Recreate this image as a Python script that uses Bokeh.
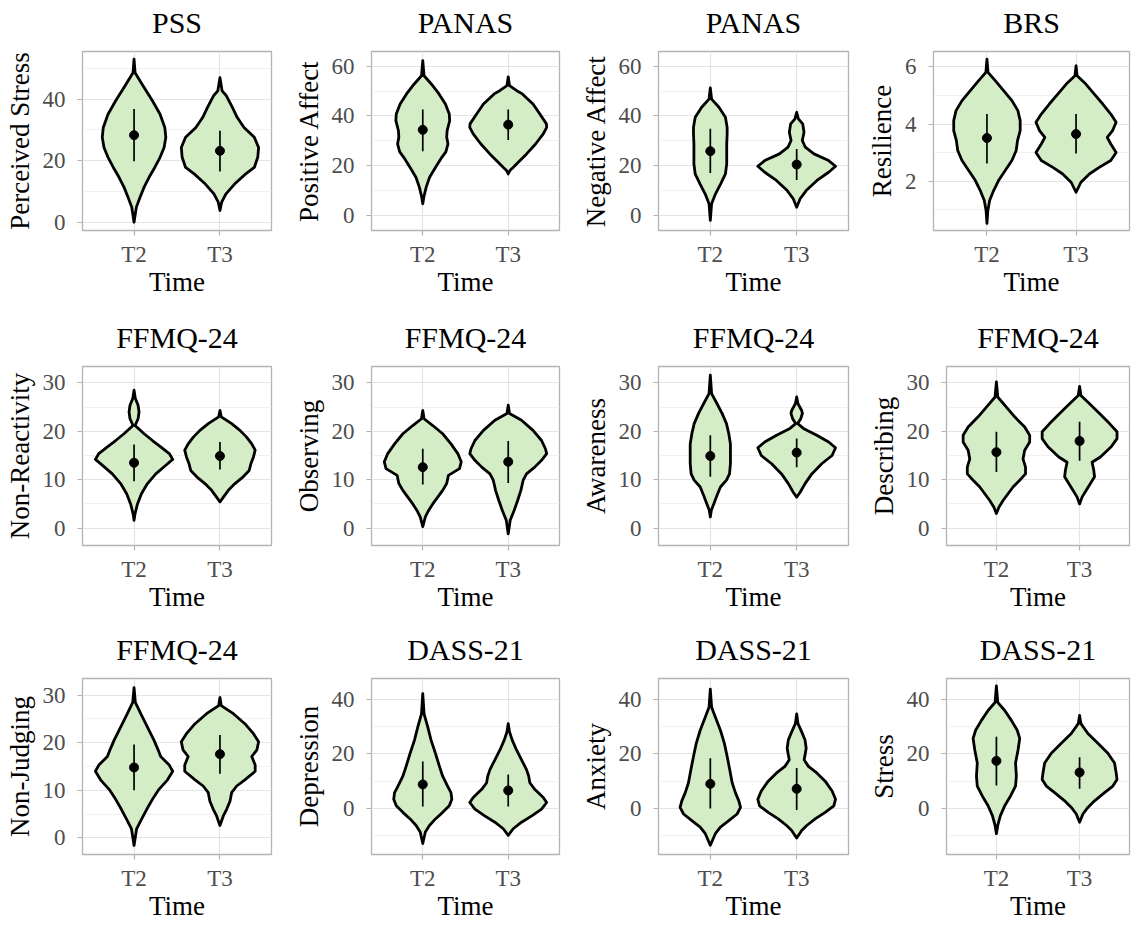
from bokeh.plotting import figure
from bokeh.layouts import column, row
from bokeh.models import FixedTicker, Range1d, LinearAxis
from bokeh.embed import file_html
from bokeh.resources import INLINE

# ---------------- data ----------------
TIMES = ["T2", "T3"]
TITLES = ["PSS", "PANAS", "PANAS", "BRS",
          "FFMQ-24", "FFMQ-24", "FFMQ-24", "FFMQ-24",
          "FFMQ-24", "DASS-21", "DASS-21", "DASS-21"]
YLABELS = ["Perceived Stress", "Positive Affect", "Negative Affect", "Resilience",
           "Non-Reactivity", "Observing", "Awareness", "Describing",
           "Non-Judging", "Depression", "Anxiety", "Stress"]

# violin outlines: y levels and half widths (x units), T2 and T3
PSS_T2_y = [0, 4.9, 8.1, 11.4, 14.6, 17.8, 21.1, 24.3, 27.6, 30.8, 35.1, 39.5, 43.8, 48.6, 53.0]
PSS_T2_w = [0, 0.027, 0.07, 0.117, 0.175, 0.241, 0.303, 0.35, 0.37, 0.358, 0.303, 0.214, 0.117, 0.012, 0]
PSS_T3_y = [3.8, 6.5, 9.2, 12.4, 15.7, 17.8, 21.1, 24.3, 27.6, 30.8, 34.1, 37.3, 41.1, 42.7, 47.0]
PSS_T3_w = [0, 0.02, 0.07, 0.17, 0.30, 0.40, 0.44, 0.45, 0.40, 0.28, 0.20, 0.145, 0.075, 0.025, 0]

PA_T2_y = [4.6, 7.2, 11.3, 15.3, 19.3, 23.4, 25.5, 28.7, 31.4, 34.1, 38.1, 40.8, 44.8, 48.9, 52.9, 56.2, 62.3]
PA_T2_w = [0, 0.012, 0.04, 0.08, 0.15, 0.225, 0.27, 0.295, 0.28, 0.285, 0.315, 0.31, 0.265, 0.19, 0.1, 0.015, 0]
PA_T3_y = [16.6, 18, 19.3, 20.7, 24.7, 28.7, 32.8, 35.4, 36.8, 40.8, 44.8, 48.9, 50.2, 52.2, 55.8]
PA_T3_w = [0, 0.02, 0.06, 0.1, 0.215, 0.32, 0.41, 0.45, 0.447, 0.37, 0.29, 0.165, 0.1, 0.015, 0]

NA_T2_y = [-2.1, 4.6, 8.6, 12.6, 16.6, 20.7, 24.7, 28.7, 32.8, 35.4, 39.5, 43.5, 46.8, 51.3]
NA_T2_w = [0, 0.015, 0.06, 0.12, 0.175, 0.19, 0.19, 0.19, 0.195, 0.195, 0.175, 0.1, 0.015, 0]
NA_T3_y = [3.2, 6.6, 9.9, 14, 17.3, 19.7, 22, 24.7, 27.4, 30.1, 33.4, 36.8, 38.8, 41.5]
NA_T3_w = [0, 0.04, 0.11, 0.235, 0.37, 0.45, 0.37, 0.2, 0.1, 0.065, 0.085, 0.07, 0.02, 0]

BRS_T2_y = [0.52, 0.97, 1.32, 1.67, 2.02, 2.37, 2.72, 3.07, 3.42, 3.77, 4.12, 4.47, 4.82, 5.17, 5.52, 5.81, 6.27]
BRS_T2_w = [0, 0.01, 0.03, 0.075, 0.13, 0.205, 0.28, 0.328, 0.343, 0.373, 0.373, 0.347, 0.28, 0.187, 0.093, 0.012, 0]
BRS_T3_y = [1.61, 1.96, 2.25, 2.48, 2.72, 3.0, 3.3, 3.53, 3.77, 4.06, 4.35, 4.7, 5.05, 5.4, 5.69, 6.04]
BRS_T3_w = [0, 0.055, 0.15, 0.26, 0.39, 0.45, 0.39, 0.35, 0.41, 0.45, 0.39, 0.3, 0.205, 0.11, 0.012, 0]

NR_T2_y = [1.6, 3, 5, 7.1, 9.2, 11.2, 13, 14.2, 15.4, 16.8, 18.1, 19.5, 21.2, 22.6, 24, 25.4, 26.8, 28.5]
NR_T2_w = [0, 0.012, 0.04, 0.086, 0.156, 0.253, 0.37, 0.45, 0.41, 0.31, 0.214, 0.117, 0.012, 0.047, 0.058, 0.047, 0.015, 0]
NR_T3_y = [5.4, 6.4, 7.8, 9.2, 10.6, 11.9, 13.3, 14.7, 16.1, 17.4, 18.8, 20.2, 21.6, 23, 24.3]
NR_T3_w = [0, 0.04, 0.097, 0.175, 0.27, 0.34, 0.36, 0.39, 0.41, 0.37, 0.31, 0.233, 0.136, 0.015, 0]

OB_T2_y = [0.3, 2.3, 3.7, 5, 6.4, 7.8, 9.2, 10.9, 12.3, 13.7, 15.4, 17.4, 19.5, 21.2, 22.6, 24.3]
OB_T2_w = [0, 0.03, 0.07, 0.117, 0.175, 0.233, 0.28, 0.30, 0.43, 0.45, 0.41, 0.33, 0.233, 0.117, 0.015, 0]
OB_T3_y = [-1.2, 1.6, 3.7, 5.7, 7.8, 9.9, 11.2, 12.6, 14, 15.4, 16.4, 18.1, 20.2, 22.3, 23.7, 25.4]
OB_T3_w = [0, 0.023, 0.07, 0.11, 0.148, 0.175, 0.214, 0.31, 0.39, 0.45, 0.435, 0.39, 0.29, 0.156, 0.015, 0]

AW_T2_y = [2.3, 3.7, 5, 6.8, 8.5, 9.9, 11.2, 13.3, 15.4, 17.4, 19.5, 21.6, 23.7, 25.7, 27.8, 31.6]
AW_T2_w = [0, 0.012, 0.04, 0.078, 0.117, 0.187, 0.222, 0.233, 0.233, 0.233, 0.214, 0.187, 0.136, 0.078, 0.015, 0]
AW_T3_y = [6.4, 7.4, 9.2, 11.2, 13.3, 15, 16.6, 17.8, 19.2, 20.6, 21.6, 22.6, 23.7, 24.3, 25.7, 27.1]
AW_T3_w = [0, 0.04, 0.097, 0.175, 0.29, 0.41, 0.45, 0.37, 0.233, 0.078, 0.012, 0.047, 0.066, 0.058, 0.015, 0]

DE_T2_y = [3, 4.3, 5.7, 7.1, 8.5, 9.9, 11.2, 12.6, 14.3, 16.1, 17.8, 19.2, 20.9, 23, 25, 27.1, 30.2]
DE_T2_w = [0, 0.03, 0.08, 0.14, 0.2, 0.28, 0.35, 0.35, 0.32, 0.34, 0.4, 0.4, 0.34, 0.22, 0.12, 0.016, 0]
DE_T3_y = [5, 6.4, 7.8, 9.2, 10.6, 12, 13.6, 14.7, 16.8, 18.5, 19.9, 21.6, 23.7, 25.7, 27.4, 29.3]
DE_T3_w = [0, 0.03, 0.08, 0.13, 0.18, 0.17, 0.15, 0.25, 0.38, 0.45, 0.45, 0.36, 0.24, 0.12, 0.016, 0]

NJ_T2_y = [-1.6, 1.9, 3.9, 6, 8.1, 10.2, 12.2, 14, 15.3, 17.1, 18.5, 20.5, 23.3, 26.1, 28.5, 31.6]
NJ_T2_w = [0, 0.03, 0.086, 0.148, 0.214, 0.29, 0.39, 0.45, 0.41, 0.31, 0.28, 0.233, 0.156, 0.078, 0.015, 0]
NJ_T3_y = [2.6, 4.6, 6, 7.7, 9.5, 10.9, 12.2, 14, 15.3, 17.1, 18.5, 20.2, 21.9, 24, 26.1, 27.8, 29.5]
NJ_T3_w = [0, 0.039, 0.078, 0.117, 0.136, 0.195, 0.29, 0.41, 0.41, 0.37, 0.43, 0.45, 0.39, 0.29, 0.156, 0.015, 0]

DP_T2_y = [-12.8, -8.6, -6.2, -3.8, -1.4, 1, 3.4, 5.8, 8.2, 11.8, 15.4, 20.2, 25, 29.8, 34.6, 42]
DP_T2_w = [0, 0.03, 0.078, 0.148, 0.233, 0.31, 0.34, 0.33, 0.29, 0.233, 0.195, 0.148, 0.097, 0.058, 0.015, 0]
DP_T3_y = [-9.8, -7.4, -5, -2.6, -0.2, 2.2, 4, 7, 9.4, 11.8, 14.2, 17.8, 21.4, 25, 28, 31]
DP_T3_w = [0, 0.058, 0.156, 0.28, 0.39, 0.45, 0.41, 0.31, 0.253, 0.24, 0.214, 0.156, 0.097, 0.047, 0.015, 0]

AX_T2_y = [-13.4, -9.2, -6.8, -4.4, -2, 0.4, 2.8, 5.8, 9.4, 14.2, 19, 23.8, 28.6, 33.4, 37, 43.6]
AX_T2_w = [0, 0.058, 0.117, 0.214, 0.31, 0.35, 0.33, 0.29, 0.253, 0.225, 0.195, 0.163, 0.117, 0.058, 0.015, 0]
AX_T3_y = [-10.8, -8, -6.2, -3.8, -1.4, 1, 3.4, 6.4, 10, 13, 15.4, 17.8, 19.6, 22, 25, 28, 31, 34.6]
AX_T3_w = [0, 0.058, 0.117, 0.214, 0.33, 0.43, 0.45, 0.41, 0.33, 0.233, 0.136, 0.086, 0.097, 0.11, 0.097, 0.058, 0.015, 0]

ST_T2_y = [-9.2, -6.2, -2.6, 1, 4.6, 8.2, 11.8, 16.6, 21.4, 25.6, 28.6, 32.2, 35.8, 38.8, 44.8]
ST_T2_w = [0, 0.016, 0.048, 0.1, 0.17, 0.23, 0.24, 0.23, 0.26, 0.28, 0.25, 0.18, 0.1, 0.016, 0]
ST_T3_y = [-5, -2, 0.4, 2.8, 5.8, 8.2, 10.6, 13, 16.6, 20.2, 23.8, 27.4, 31, 34]
ST_T3_w = [0, 0.04, 0.1, 0.18, 0.3, 0.4, 0.45, 0.44, 0.42, 0.34, 0.22, 0.1, 0.016, 0]

# mean and mean +/- SD per panel
MEAN_T2 = [28.3, 34.4, 25.8, 3.51, 13.5, 12.6, 14.9, 15.7, 14.8, 8.8, 9.0, 17.4]
LO_T2 = [19.8, 25.8, 17.0, 2.62, 9.7, 9.0, 10.6, 11.6, 10.0, 0.7, 0.0, 8.4]
HI_T2 = [36.8, 42.6, 34.8, 4.35, 17.3, 16.4, 19.2, 19.9, 19.6, 17.2, 18.4, 26.2]
MEAN_T3 = [23.2, 36.5, 20.4, 3.65, 14.9, 13.7, 15.6, 18.0, 17.6, 6.6, 7.2, 13.2]
LO_T3 = [16.5, 30.3, 14.2, 2.97, 12.1, 9.3, 12.6, 13.9, 13.5, 0.7, -0.5, 7.2]
HI_T3 = [29.7, 42.6, 26.7, 4.35, 17.8, 18.0, 18.5, 22.0, 21.6, 12.4, 14.8, 18.7]

# axis ticks per panel
Y_TICKS = [[0, 20, 40], [0, 20, 40, 60], [0, 20, 40, 60], [2, 4, 6],
           [0, 10, 20, 30], [0, 10, 20, 30], [0, 10, 20, 30], [0, 10, 20, 30],
           [0, 10, 20, 30], [0, 20, 40], [0, 20, 40], [0, 20, 40]]
Y_MINOR = [[10, 30, 50], [10, 30, 50], [10, 30, 50], [1, 3, 5],
           [5, 15, 25], [5, 15, 25], [5, 15, 25], [5, 15, 25],
           [5, 15, 25], [-10, 10, 30], [-10, 10, 30], [-10, 10, 30]]

VIOLINS = [
    ((PSS_T2_y, PSS_T2_w), (PSS_T3_y, PSS_T3_w)),
    ((PA_T2_y, PA_T2_w), (PA_T3_y, PA_T3_w)),
    ((NA_T2_y, NA_T2_w), (NA_T3_y, NA_T3_w)),
    ((BRS_T2_y, BRS_T2_w), (BRS_T3_y, BRS_T3_w)),
    ((NR_T2_y, NR_T2_w), (NR_T3_y, NR_T3_w)),
    ((OB_T2_y, OB_T2_w), (OB_T3_y, OB_T3_w)),
    ((AW_T2_y, AW_T2_w), (AW_T3_y, AW_T3_w)),
    ((DE_T2_y, DE_T2_w), (DE_T3_y, DE_T3_w)),
    ((NJ_T2_y, NJ_T2_w), (NJ_T3_y, NJ_T3_w)),
    ((DP_T2_y, DP_T2_w), (DP_T3_y, DP_T3_w)),
    ((AX_T2_y, AX_T2_w), (AX_T3_y, AX_T3_w)),
    ((ST_T2_y, ST_T2_w), (ST_T3_y, ST_T3_w)),
]

# ---------------- layout / style ----------------
Y_RANGES = [(-2.7, 55.5), (-6.2, 66.0), (-6.2, 66.0), (0.27, 6.54),
            (-3.6, 33.4), (-3.6, 33.4), (-3.6, 33.4), (-3.6, 33.4),
            (-3.5, 33.5), (-16.8, 47.5), (-16.8, 47.5), (-16.8, 47.5)]
COL_W = [288, 285, 290, 276]
COL_R = [17, 14, 15, 10]
LEFT = [[82, 83, 85, 70], [82, 83, 85, 83], [82, 83, 85, 83]]
ROW_H = [310, 310, 306]
ROW_T = [51, 56, 58]
ROW_B = [80, 75, 72]

FONT = "Liberation Serif"
FILL = "#D4EDC7"
GRID = "#E4E4E4"
GRID_MINOR = "#F0F0F0"
BORDER = "#B3B3B3"


def make_panel(i, r, c):
    p = figure(width=COL_W[c], height=ROW_H[r], output_backend="svg",
               toolbar_location=None,
               x_range=Range1d(0.4, 2.6), y_range=Range1d(*Y_RANGES[i]),
               min_border_left=LEFT[r][c], min_border_right=COL_R[c],
               min_border_top=ROW_T[r], min_border_bottom=ROW_B[r])

    p.outline_line_color = BORDER
    p.outline_line_width = 1.3
    p.background_fill_color = "white"
    p.border_fill_color = "white"

    for ax in (p.xaxis[0], p.yaxis[0]):
        ax.axis_line_color = None
        ax.major_tick_line_color = BORDER
        ax.major_tick_line_width = 1.2
        ax.major_tick_out = 5
        ax.major_tick_in = 0
        ax.minor_tick_out = 0
        ax.minor_tick_in = 0
        ax.major_label_text_font = FONT
        ax.major_label_text_font_size = "23px"
        ax.major_label_text_color = "#4D4D4D"
        ax.axis_label_text_font = FONT
        ax.axis_label_text_font_size = "27px"
        ax.axis_label_text_font_style = "normal"
        ax.axis_label_text_color = "black"

    p.xaxis.ticker = FixedTicker(ticks=[1, 2])
    p.xaxis.major_label_overrides = {1: TIMES[0], 2: TIMES[1]}
    p.xaxis.axis_label = "Time"
    p.xaxis.major_label_standoff = 6
    p.xaxis.axis_label_standoff = -3

    p.yaxis.ticker = FixedTicker(ticks=Y_TICKS[i], minor_ticks=Y_MINOR[i])
    p.yaxis.axis_label = YLABELS[i]
    p.yaxis.major_label_standoff = 12
    p.yaxis.axis_label_standoff = 5

    # panel title: an empty axis above the frame carrying the title text
    tax = LinearAxis(ticker=FixedTicker(ticks=[]), axis_label=TITLES[i],
                     axis_line_color=None, major_tick_out=0, major_tick_in=0,
                     minor_tick_out=0, minor_tick_in=0, major_label_standoff=0,
                     axis_label_standoff=13, axis_label_text_font=FONT,
                     axis_label_text_font_size="30px", axis_label_text_font_style="normal",
                     axis_label_text_color="black")
    p.add_layout(tax, "above")

    p.xgrid.grid_line_color = GRID
    p.xgrid.grid_line_width = 1.2
    p.ygrid.grid_line_color = GRID
    p.ygrid.grid_line_width = 1.2
    p.ygrid.minor_grid_line_color = GRID_MINOR
    p.ygrid.minor_grid_line_width = 1.0

    for k, (ys, ws) in enumerate(VIOLINS[i]):
        cx = k + 1
        xs = [cx + w for w in ws] + [cx - w for w in reversed(ws)]
        yy = list(ys) + list(reversed(ys))
        p.patch(xs, yy, fill_color=FILL, fill_alpha=1.0, line_color="black",
                line_width=2.8, line_join="round")

    means = [MEAN_T2[i], MEAN_T3[i]]
    los = [LO_T2[i], LO_T3[i]]
    his = [HI_T2[i], HI_T3[i]]
    p.segment(x0=[1, 2], y0=los, x1=[1, 2], y1=his, line_color="black", line_width=1.7)
    p.scatter(x=[1, 2], y=means, size=9, color="black")
    return p


rows = []
for r in range(3):
    figs = [make_panel(r * 4 + c, r, c) for c in range(4)]
    rows.append(row(*figs, spacing=0))
layout = column(*rows, spacing=0)

open("out.html", "w").write(file_html(layout, INLINE))
